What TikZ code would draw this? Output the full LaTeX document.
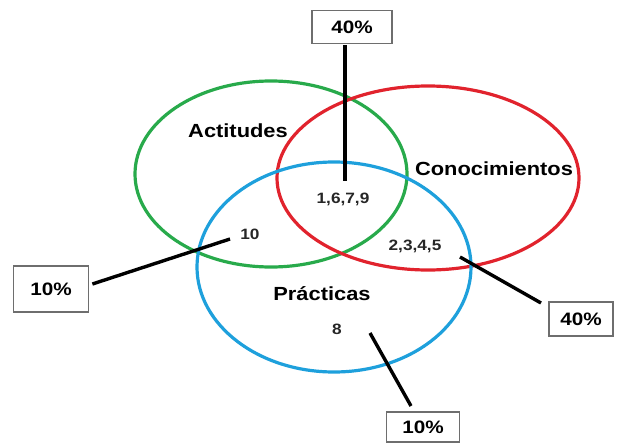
\documentclass[tikz,border=0pt]{standalone}
\usepackage{fontspec}
\setmainfont{Liberation Sans}[FakeStretch=1.15]
\definecolor{vgreen}{RGB}{40,170,75}
\definecolor{vred}{RGB}{225,35,45}
\definecolor{vblue}{RGB}{30,160,220}
\definecolor{boxgray}{RGB}{110,110,110}
\begin{document}
\begin{tikzpicture}[x=1pt,y=-1pt,
  ring/.style={line width=3.2pt},
  pct/.style={draw=boxgray,line width=1.8pt,fill=white,font=\fontsize{18}{20}\selectfont\bfseries,inner sep=0pt},
  lbl/.style={font=\fontsize{19}{21}\selectfont\bfseries,inner sep=0pt},
  num/.style={font=\fontsize{15}{17}\selectfont\bfseries,inner sep=0pt,text=black!85},
  conn/.style={line width=3.4pt,black}]
\useasboundingbox (0,0) rectangle (619,447);
% circles
\draw[ring,vgreen] (271,174) ellipse [x radius=136,y radius=93];
\draw[ring,vred] (428,178) ellipse [x radius=151,y radius=92];
\draw[ring,vblue] (334,267) ellipse [x radius=137,y radius=105];
% labels
\node[lbl] (act) at (238,131) {Actitudes};
\node[lbl] (con) at (494,169) {Conocimientos};
\node[lbl] (pra) at (322,294) {Prácticas};
\node[num] (n1) at (343,199) {1,6,7,9};
\node[num] (n10) at (250,234) {10};
\node[num] (n2) at (415,246) {2,3,4,5};
\node[num] (n8) at (337,329) {8};
% boxes
\node[pct,minimum width=80,minimum height=33] (b1) at (352,27) {40\%};
\node[pct,minimum width=75,minimum height=46] (b2) at (51,289) {10\%};
\node[pct,minimum width=64,minimum height=34] (b3) at (581,319) {40\%};
\node[pct,minimum width=73,minimum height=30] (b4) at (423,427) {10\%};
% connector ends
\coordinate (e1) at (345,181);
\coordinate (e2) at (230,239);
\coordinate (e3) at (460,257);
\coordinate (e4) at (370,333);
\draw[conn] (345,45) -- (e1);
\draw[conn] (b2.east) ++(3,-5) -- (e2);
\draw[conn] (e3) -- (541,303);
\draw[conn] (e4) -- (411,406);
\end{tikzpicture}
\end{document}
